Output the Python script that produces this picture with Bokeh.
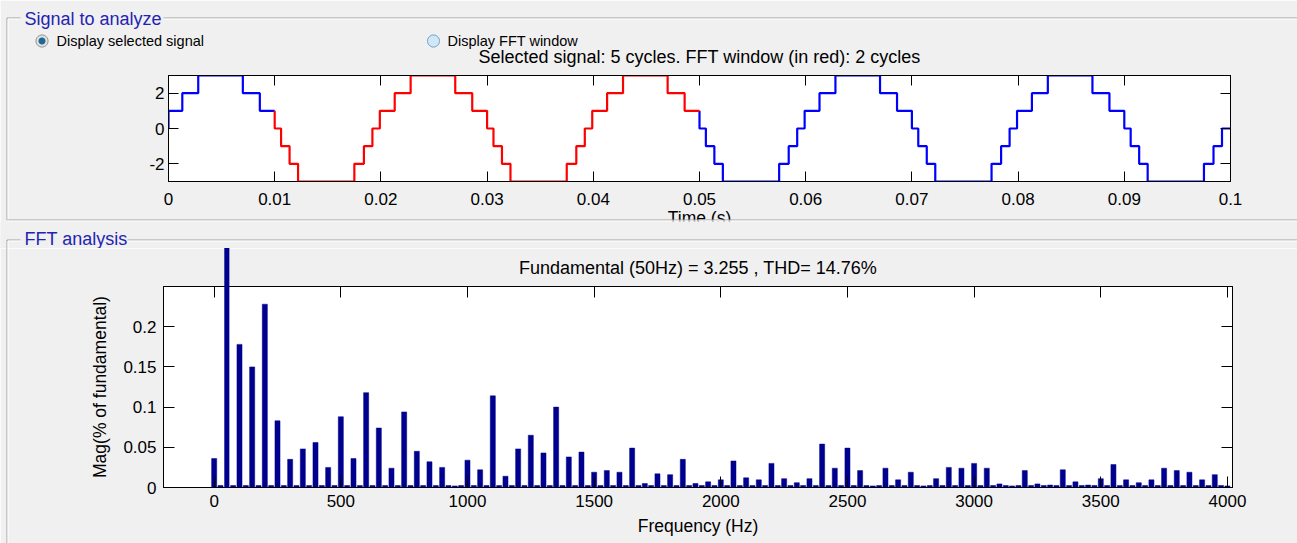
import numpy as np
from bokeh.plotting import figure
from bokeh.layouts import column, row
from bokeh.models import Range1d, LinearAxis, FixedTicker
from bokeh.core.properties import value
from bokeh.embed import file_html
from bokeh.resources import INLINE

# ---------------- data ----------------
panel1_title = "Signal to analyze"
panel2_title = "FFT analysis"
radio_labels = ["Display selected signal", "Display FFT window"]
signal_title = "Selected signal: 5 cycles. FFT window (in red): 2 cycles"
fft_title = "Fundamental (50Hz) = 3.255 , THD= 14.76%"
time_label = "Time (s)"
freq_label = "Frequency (Hz)"
mag_label = "Mag(% of fundamental)"

# step signal: switching instants (s) and the level held from that instant on
sig_t = [0.0000, 0.0000, 0.0013, 0.0028, 0.0070, 0.0086, 0.0100, 0.0106, 0.0114, 0.0122, 0.0175, 0.0184, 0.0192, 0.0199,
         0.0213, 0.0228, 0.0270, 0.0286, 0.0300, 0.0306, 0.0314, 0.0322, 0.0375, 0.0384, 0.0392, 0.0399,
         0.0413, 0.0428, 0.0470, 0.0486, 0.0500, 0.0506, 0.0514, 0.0522, 0.0575, 0.0584, 0.0592, 0.0599,
         0.0613, 0.0628, 0.0670, 0.0686, 0.0700, 0.0706, 0.0714, 0.0722, 0.0775, 0.0784, 0.0792, 0.0799,
         0.0813, 0.0828, 0.0870, 0.0886, 0.0900, 0.0906, 0.0914, 0.0922, 0.0975, 0.0984, 0.0992, 0.1000]
sig_v = [0, 1, 2, 3, 2, 1, 0, -1, -2, -3, -2, -1, 0, 1,
         2, 3, 2, 1, 0, -1, -2, -3, -2, -1, 0, 1,
         2, 3, 2, 1, 0, -1, -2, -3, -2, -1, 0, 1,
         2, 3, 2, 1, 0, -1, -2, -3, -2, -1, 0, 1,
         2, 3, 2, 1, 0, -1, -2, -3, -2, -1, 0, 0]
win_start = 0.01
win_end = 0.05

time_ticks = [0, 0.01, 0.02, 0.03, 0.04, 0.05, 0.06, 0.07, 0.08, 0.09, 0.1]
time_tick_labels = ["0", "0.01", "0.02", "0.03", "0.04", "0.05", "0.06", "0.07", "0.08", "0.09", "0.1"]
sig_ticks = [-2, 0, 2]
sig_tick_labels = ["-2", "0", "2"]

harm_freq = [0, 50, 100, 150, 200, 250, 300, 350, 400, 450,
             500, 550, 600, 650, 700, 750, 800, 850, 900, 950,
             1000, 1050, 1100, 1150, 1200, 1250, 1300, 1350, 1400, 1450,
             1500, 1550, 1600, 1650, 1700, 1750, 1800, 1850, 1900, 1950,
             2000, 2050, 2100, 2150, 2200, 2250, 2300, 2350, 2400, 2450,
             2500, 2550, 2600, 2650, 2700, 2750, 2800, 2850, 2900, 2950,
             3000, 3050, 3100, 3150, 3200, 3250, 3300, 3350, 3400, 3450,
             3500, 3550, 3600, 3650, 3700, 3750, 3800, 3850, 3900, 3950,
             4000]
harm_mag = [0.036, 100.0, 0.178, 0.150, 0.228, 0.083, 0.035, 0.048, 0.056, 0.025,
            0.088, 0.036, 0.118, 0.074, 0.024, 0.094, 0.045, 0.032, 0.025, 0.002,
            0.034, 0.022, 0.114, 0.014, 0.048, 0.065, 0.043, 0.100, 0.038, 0.044,
            0.019, 0.021, 0.019, 0.049, 0.005, 0.017, 0.016, 0.035, 0.005, 0.007,
            0.0095, 0.033, 0.012, 0.0095, 0.030, 0.011, 0.006, 0.011, 0.054, 0.024,
            0.049, 0.021, 0.002, 0.024, 0.0095, 0.019, 0.002, 0.011, 0.025, 0.024,
            0.030, 0.024, 0.0045, 0.002, 0.021, 0.0045, 0.003, 0.022, 0.007, 0.003,
            0.011, 0.0285, 0.0095, 0.006, 0.0095, 0.024, 0.021, 0.019, 0.0095, 0.016,
            0.002]
inter_freq = [25, 75, 125, 175, 225, 275, 325, 375, 425, 475,
              525, 575, 625, 675, 725, 775, 825, 875, 925, 975,
              1025, 1075, 1125, 1175, 1225, 1275, 1325, 1375, 1425, 1475,
              1525, 1575, 1625, 1675, 1725, 1775, 1825, 1875, 1925, 1975,
              2025, 2075, 2125, 2175, 2225, 2275, 2325, 2375, 2425, 2475,
              2525, 2575, 2625, 2675, 2725, 2775, 2825, 2875, 2925, 2975,
              3025, 3075, 3125, 3175, 3225, 3275, 3325, 3375, 3425, 3475,
              3525, 3575, 3625, 3675, 3725, 3775, 3825, 3875, 3925, 3975]
inter_mag = [0.0025, 0.0025, 0.0025, 0.0025, 0.0025, 0.0025, 0.0025, 0.0025, 0.0025, 0.0025,
             0.0025, 0.0025, 0.0025, 0.0025, 0.0025, 0.0025, 0.0025, 0.0025, 0.0025, 0.0025,
             0.0025, 0.0025, 0.0025, 0.0025, 0.0025, 0.0025, 0.0025, 0.0025, 0.0025, 0.0025,
             0.0025, 0.0025, 0.0025, 0.0025, 0.0025, 0.0025, 0.0025, 0.0025, 0.0025, 0.0025,
             0.0025, 0.0025, 0.0025, 0.0025, 0.0025, 0.0025, 0.0025, 0.0025, 0.0025, 0.0025,
             0.0025, 0.0025, 0.0025, 0.0025, 0.0025, 0.0025, 0.0025, 0.0025, 0.0025, 0.0025,
             0.0025, 0.0025, 0.0025, 0.0025, 0.0025, 0.0025, 0.0025, 0.0025, 0.0025, 0.0025,
             0.0025, 0.0025, 0.0025, 0.0025, 0.0025, 0.0025, 0.0025, 0.0025, 0.0025, 0.0025]
freq_ticks = [0, 500, 1000, 1500, 2000, 2500, 3000, 3500, 4000]
freq_tick_labels = ["0", "500", "1000", "1500", "2000", "2500", "3000", "3500", "4000"]
mag_ticks = [0, 0.05, 0.1, 0.15, 0.2]
mag_tick_labels = ["0", "0.05", "0.1", "0.15", "0.2"]

# ---------------- style / layout ----------------
BG = "#f0f0f0"
FONT = "Liberation Sans"
PANEL_BLUE = "#2323b4"
BAR = "#00008f"
ETCH_DARK = "#a0a0a0"
ETCH_LIGHT = "#ffffff"
W = 1297
SPLIT = 248                      # page y where the second canvas starts
# frames in page pixels
F1 = dict(left=168, top=75, width=1062, height=106)
F2 = dict(left=163, top=286, width=1069, height=201)
BAR_W = 20                       # bar width in Hz
TXT_SHIFT = 0.33                 # alphabetic-baseline correction (em)


def style_axis(ax, ticks, labels, tick_len, standoff, show_labels=True, label=None, label_standoff=5):
    ax.ticker = FixedTicker(ticks=ticks)
    ax.major_tick_in = tick_len
    ax.major_tick_out = 0
    ax.minor_tick_line_color = None
    ax.axis_line_color = "black"
    ax.major_tick_line_color = "black"
    ax.major_label_standoff = standoff
    ax.major_label_text_font = FONT
    ax.major_label_text_font_size = "17px"
    ax.major_label_overrides = {t: l for t, l in zip(ticks, labels)}
    ax.major_label_text_color = "black" if show_labels else None
    if label is not None:
        ax.axis_label = label
        ax.axis_label_text_font = FONT
        ax.axis_label_text_font_size = "17.5px"
        ax.axis_label_text_font_style = "normal"
        ax.axis_label_text_color = "black"
        ax.axis_label_standoff = label_standoff


def make_fig(fr, page_top, page_bottom, xr, yr):
    top_b = fr["top"] - page_top
    bot_b = page_bottom - (fr["top"] + fr["height"])
    p = figure(frame_width=fr["width"], frame_height=fr["height"], x_range=xr, y_range=yr,
               output_backend="svg", toolbar_location=None,
               min_border_left=fr["left"], min_border_top=top_b,
               min_border_right=W - fr["left"] - fr["width"], min_border_bottom=bot_b,
               background_fill_color="white", border_fill_color=BG,
               outline_line_color="black", outline_line_width=1)
    p.grid.visible = False
    # page-pixel coordinate system for the panel decorations
    p.extra_x_ranges = {"px": Range1d(fr["left"], fr["left"] + fr["width"])}
    p.extra_y_ranges = {"py": Range1d(fr["top"] + fr["height"], fr["top"])}
    return p


def deco_text(p, x, y, txt, size, color, align="left"):
    px = float(size.replace("px", ""))
    p.text(x=[x], y=[y - TXT_SHIFT * px], text=[txt], x_range_name="px", y_range_name="py", level="overlay",
           text_font=value(FONT), text_font_size=value(size), text_color=color,
           text_align=align, text_baseline="alphabetic")


def deco_lines(p, xs, ys, color, width=1):
    p.multi_line(xs=xs, ys=ys, x_range_name="px", y_range_name="py", level="overlay",
                 line_color=color, line_width=width)


def deco_disc(p, cx, cy, r, color, ring=False):
    a = np.linspace(0, 2 * np.pi, 61)
    rr = r if ring else r / 2.0
    xs = list(cx + rr * np.cos(a))
    ys = list(cy + rr * np.sin(a))
    deco_lines(p, [xs], [ys], color, width=1 if ring else r)


# ---------------- top panel: signal ----------------
p1 = make_fig(F1, 0, SPLIT, Range1d(0, 0.1), Range1d(-3, 3))
style_axis(p1.xaxis[0], time_ticks, time_tick_labels, 10, 11, label=time_label, label_standoff=0)
style_axis(p1.yaxis[0], sig_ticks, sig_tick_labels, 10, 4)
ax_top = LinearAxis()
style_axis(ax_top, time_ticks, time_tick_labels, 10, 4, show_labels=False)
p1.add_layout(ax_top, "above")
ax_right = LinearAxis()
style_axis(ax_right, sig_ticks, sig_tick_labels, 10, 4, show_labels=False)
p1.add_layout(ax_right, "right")

t = np.array(sig_t)
v = np.array(sig_v)
before = t < win_start
inside = (t >= win_start) & (t < win_end)
after = t >= win_end
blue1_t = list(t[before]) + [win_start]
blue1_v = list(v[before]) + [v[before][-1]]
red_t = [win_start] + list(t[inside]) + [win_end]
red_v = [v[before][-1]] + list(v[inside]) + [v[inside][-1]]
blue2_t = [win_end] + list(t[after])
blue2_v = [v[inside][-1]] + list(v[after])
p1.step(x=blue1_t, y=blue1_v, mode="after", line_color="#0000ff", line_width=2.2)
p1.step(x=blue2_t, y=blue2_v, mode="after", line_color="#0000ff", line_width=2.2)
p1.step(x=red_t, y=red_v, mode="after", line_color="#ff0000", line_width=2.2)

# cover the part of the axis label that falls outside panel 1
deco_lines(p1, [[0, 1300]], [[234.5, 234.5]], BG, width=27)
# panel 1 frame (etched)
deco_lines(p1, [[6.5, 6.5], [6.5, 20], [163, 1300], [6.5, 1300]],
           [[17.5, 219.5], [17.5, 17.5], [17.5, 17.5], [219.5, 219.5]], ETCH_DARK)
deco_lines(p1, [[7.5, 7.5], [7.5, 20], [163, 1300], [6.5, 1300]],
           [[18.5, 219], [18.5, 18.5], [18.5, 18.5], [220.5, 220.5]], ETCH_LIGHT)
deco_text(p1, 24, 24, panel1_title, "18px", PANEL_BLUE)
# radio buttons
deco_disc(p1, 41.5, 40.5, 6.5, "#e2e2e2")
deco_disc(p1, 41.5, 40.5, 6.0, "#8a8a8a", ring=True)
deco_disc(p1, 41.5, 40.5, 3.5, "#1e6796")
deco_disc(p1, 433.0, 40.5, 6.5, "#cfe7f7")
deco_disc(p1, 433.0, 40.5, 6.0, "#6f9cbc", ring=True)
deco_text(p1, 56, 45, radio_labels[0], "14.5px", "black")
deco_text(p1, 447, 45, radio_labels[1], "14.5px", "black")
deco_text(p1, F1["left"] + F1["width"] / 2, 62.5, signal_title, "18px", "black", align="center")
# panel 2 frame top part (lies in this canvas)
deco_lines(p1, [[6.5, 6.5], [6.5, 20], [127, 1300]],
           [[239.5, 260], [239.5, 239.5], [239.5, 239.5]], ETCH_DARK)
deco_lines(p1, [[7.5, 7.5], [7.5, 20], [127, 1300]],
           [[240.5, 260], [240.5, 240.5], [240.5, 240.5]], ETCH_LIGHT)
deco_text(p1, 24, 244.5, panel2_title, "18px", PANEL_BLUE)

# ---------------- bottom panel: FFT ----------------
p2 = make_fig(F2, SPLIT, 543, Range1d(-200, 4020), Range1d(0, 0.25))
style_axis(p2.xaxis[0], freq_ticks, freq_tick_labels, 11, 7, label=freq_label, label_standoff=6)
style_axis(p2.yaxis[0], mag_ticks, mag_tick_labels, 11, 7, label=mag_label, label_standoff=10)
ax_top2 = LinearAxis()
style_axis(ax_top2, freq_ticks, freq_tick_labels, 11, 4, show_labels=False)
p2.add_layout(ax_top2, "above")
ax_right2 = LinearAxis()
style_axis(ax_right2, mag_ticks, mag_tick_labels, 11, 4, show_labels=False)
p2.add_layout(ax_right2, "right")

hf = np.array(harm_freq)
hm = np.array(harm_mag)
in_range = hm <= 0.25
p2.vbar(x=inter_freq, top=inter_mag, bottom=0, width=BAR_W, fill_color=BAR, line_color=BAR, line_width=0.5)
p2.vbar(x=hf[in_range], top=hm[in_range], bottom=0, width=BAR_W, fill_color=BAR, line_color=BAR, line_width=0.5)
# bars taller than the axes are drawn past the box (as in the original), cut by the panel
bar_px = BAR_W * F2["width"] / (4020 - (-200))
p2.multi_line(xs=[[f, f] for f in hf[~in_range]], ys=[[0, m] for m in hm[~in_range]],
              line_color=BAR, line_width=bar_px, line_cap="butt", level="overlay")

deco_lines(p2, [[6.5, 6.5]], [[240, 560]], ETCH_DARK)
deco_lines(p2, [[7.5, 7.5]], [[240, 560]], ETCH_LIGHT)
deco_text(p2, F2["left"] + F2["width"] / 2, 273.5, fft_title, "18px", "black", align="center")

# each plot in its own row so that their frames are not aligned with each other
layout = column(row(p1), row(p2), spacing=0)
open("out.html", "w").write(file_html(layout, INLINE))
